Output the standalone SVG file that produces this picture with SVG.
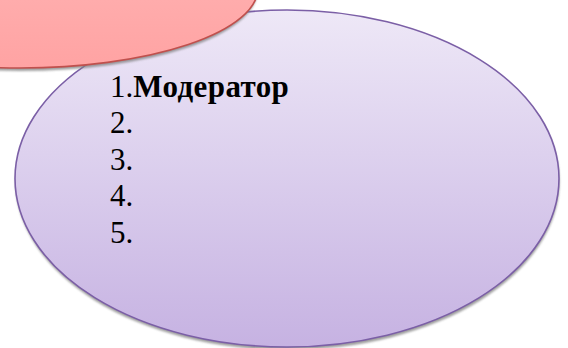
<svg xmlns="http://www.w3.org/2000/svg" width="568" height="348" viewBox="0 0 568 348">
<style>
.t{font-family:"Liberation Serif","Times New Roman",serif;font-size:31px;fill:#000}
.b{font-weight:bold;letter-spacing:0.4px}
.shadow{fill:#7f7f7f;opacity:0.75}
</style>
<defs>
<linearGradient id="gp" x1="0" y1="0" x2="0" y2="1">
<stop offset="0" stop-color="#eee8f7"/>
<stop offset="1" stop-color="#c6b2e2"/>
</linearGradient>
<linearGradient id="gr" x1="0" y1="0" x2="0" y2="1">
<stop offset="0" stop-color="#ffb8b8"/>
<stop offset="1" stop-color="#ffa3a3"/>
</linearGradient>
<filter id="blur" x="-10%" y="-10%" width="120%" height="120%">
<feGaussianBlur stdDeviation="1.2"/>
</filter>
</defs>
<rect width="568" height="348" fill="#fff"/>
<g id="purple-node">
<ellipse class="shadow" cx="287.5" cy="181.5" rx="272" ry="168.5" filter="url(#blur)"/>
<ellipse cx="287" cy="178.5" rx="272" ry="168.5" fill="url(#gp)" stroke="#7b5fa6" stroke-width="1.6"/>
<text class="t" x="110" y="96.5">1.<tspan class="b">Модератор</tspan></text>
<text class="t" x="110" y="133">2.</text>
<text class="t" x="110" y="169.5">3.</text>
<text class="t" x="110" y="206">4.</text>
<text class="t" x="110" y="242.5">5.</text>
</g>
<g id="red-node">
<ellipse class="shadow" cx="19.5" cy="-9" rx="238" ry="80" filter="url(#blur)"/>
<ellipse cx="20" cy="-12" rx="238" ry="80" fill="url(#gr)" stroke="#c0504d" stroke-width="1.6"/>
</g>
<g id="connectors"/>
</svg>
